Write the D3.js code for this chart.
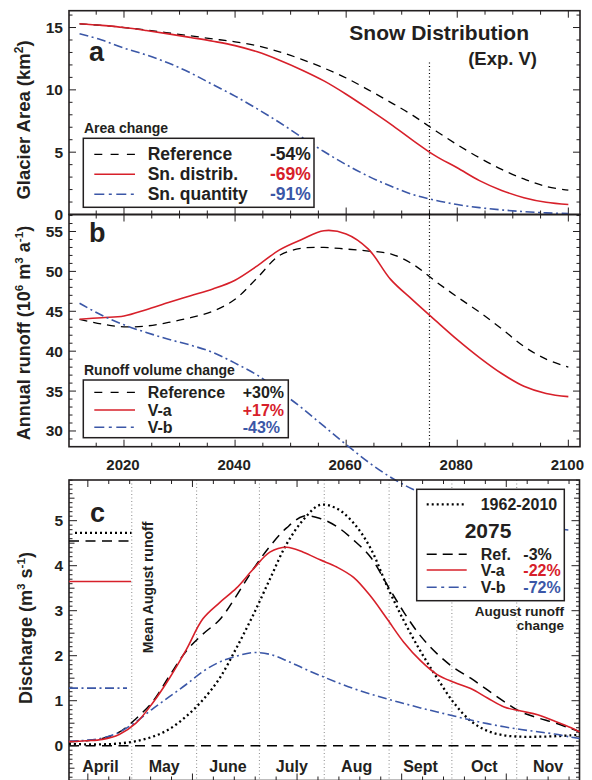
<!DOCTYPE html>
<html><head><meta charset="utf-8">
<script src="https://cdn.jsdelivr.net/npm/d3@7"></script>
<style>
body{margin:0;background:#fff}
text{font-family:Arial,"Liberation Sans",Helvetica,sans-serif;font-weight:bold}
</style>
</head><body>
<svg id="chart" width="592" height="780"></svg>
<script>
// ---------------- DATA ----------------
// Panel a & b: projection years
const years = [2012,2016,2020,2024,2028,2032,2036,2040,2044,2048,2052,2056,2060,2064,2068,2072,2076,2080,2084,2088,2092,2096,2100];
// Panel a: glacier area (km2)
const areaReference  = [15.3,15.17,15.0,14.8,14.57,14.33,14.09,13.85,13.53,13.05,12.45,11.75,10.95,10.0,9.0,7.95,6.75,5.6,4.55,3.62,2.85,2.25,1.95];
const areaSnDistrib  = [15.3,15.17,15.0,14.76,14.49,14.2,13.9,13.55,13.05,12.38,11.6,10.72,9.65,8.47,7.25,5.95,4.72,3.75,2.72,1.93,1.35,0.98,0.8];
const areaSnQuantity = [14.5,14.0,13.35,12.8,12.15,11.35,10.42,9.5,8.47,7.38,6.2,5.05,4.0,3.07,2.28,1.6,1.15,0.8,0.55,0.37,0.23,0.13,0.08];
// Panel b: annual runoff (10^6 m3 a-1)
const runoffReference = [44.0,43.4,43.05,43.15,43.6,44.2,45.0,46.5,49.2,52.0,52.9,53.0,52.8,52.55,52.2,50.9,48.8,46.8,44.9,42.8,40.6,39.0,38.0];
const runoffVa        = [44.0,44.2,44.4,45.2,46.1,46.95,47.8,48.9,50.7,52.7,54.0,55.1,54.7,52.8,49.0,46.4,43.9,41.45,39.2,37.2,35.6,34.7,34.3];
const runoffVb        = [46.0,44.5,43.3,42.35,41.5,40.75,39.85,38.5,37.0,35.0,32.9,30.6,28.3,26.1,24.2,22.7,21.55,20.6,19.7,18.95,18.35,17.9,17.6];
// Panel c: day of year
const dayOfYear = [91,99,107,115,123,131,139,147,155,163,171,179,187,195,203,211,219,227,235,243,251,259,267,275,283,291,299,307,315,323,331,335];
const q1962_2010 = [0.04,0.03,0.03,0.05,0.1,0.2,0.37,0.65,1.02,1.5,2.17,2.9,3.7,4.48,5.02,5.35,5.27,4.95,4.4,3.55,2.78,2.1,1.5,0.95,0.55,0.33,0.23,0.2,0.2,0.21,0.23,0.24];
const q2075Ref   = [0.09,0.11,0.16,0.3,0.6,0.98,1.55,2.1,2.48,2.8,3.33,3.92,4.43,4.84,5.1,5.05,4.87,4.57,4.2,3.58,2.97,2.44,2.04,1.73,1.5,1.24,0.98,0.75,0.62,0.51,0.38,0.31];
const q2075Va    = [0.09,0.11,0.14,0.25,0.5,0.95,1.5,2.13,2.82,3.18,3.5,3.92,4.3,4.41,4.3,4.13,3.97,3.74,3.33,2.82,2.3,1.89,1.58,1.41,1.27,1.06,0.86,0.77,0.69,0.55,0.4,0.31];
const q2075Vb    = [0.1,0.12,0.17,0.3,0.53,0.82,1.09,1.36,1.65,1.86,1.99,2.07,2.03,1.89,1.72,1.56,1.41,1.27,1.15,1.04,0.94,0.84,0.75,0.66,0.57,0.49,0.42,0.36,0.31,0.26,0.19,0.16];
// mean August runoff: 1962-2010, Ref, V-a, V-b
const augustMean = [4.73,4.55,3.65,1.28];
// labels
const areaLegend = ["Reference","Sn. distrib.","Sn. quantity"];
const areaChange = ["-54%","-69%","-91%"];
const runoffLegend = ["Reference","V-a","V-b"];
const runoffChange = ["+30%","+17%","-43%"];
const augLegend = ["Ref.","V-a","V-b"];
const augChange = ["-3%","-22%","-72%"];
const yearTicks = [2020,2040,2060,2080,2100];
const monthNames = ["April","May","June","July","Aug","Sept","Oct","Nov"];
const monthStarts = [91,121,152,182,213,244,274,305,335];

// ---------------- SETUP ----------------
const svg = d3.select("#chart");
const ink = "#231f20", red = "#d7202a", blue = "#3b57a7";
const L = 69, R = 580;
const xYear = d3.scaleLinear().domain([2010.1, 2102.1]).range([L, R]);
const yA = d3.scaleLinear().domain([0, 16.35]).range([214.5, 10.7]);
const yB = d3.scaleLinear().domain([28.03, 57.13]).range([446.7, 214.5]);
const xDay = d3.scaleLinear().domain([91, 335]).range([L, 579.5]);
const yC = d3.scaleLinear().domain([-0.773, 5.904]).range([780.5, 480]);

const stRef  = {c:"#000", w:1.3, dash:"8,6"};
const stRed  = {c:red, w:1.6};
const stBlue = {c:blue, w:1.6, dash:"9,3.5,2,3.5"};
const stRefC = {c:"#000", w:1.5, dash:"10,6.5"};
const stDot  = {c:"#000", w:2.3, dash:"2,3"};

function text(x, y, s, size, opt = {}) {
  return svg.append("text").attr("x", x).attr("y", y).attr("font-size", size)
    .attr("fill", opt.fill || ink).attr("text-anchor", opt.anchor || "start").text(s);
}
function curve(xs, vals, sx, sy, st) {
  const gen = d3.line().curve(d3.curveCatmullRom.alpha(0.5)).x((d, i) => sx(xs[i])).y(d => sy(d));
  svg.append("path").attr("d", gen(vals)).attr("fill", "none").attr("stroke", st.c)
    .attr("stroke-width", st.w).attr("stroke-dasharray", st.dash || null);
}
function seg(x1, y1, x2, y2, st) {
  svg.append("line").attr("x1", x1).attr("y1", y1).attr("x2", x2).attr("y2", y2)
    .attr("stroke", st.c).attr("stroke-width", st.w).attr("stroke-dasharray", st.dash || null);
}
function frame(x0, y0, x1, y1) {
  svg.append("rect").attr("x", x0).attr("y", y0).attr("width", x1 - x0).attr("height", y1 - y0)
    .attr("fill", "none").attr("stroke", ink).attr("stroke-width", 1.6);
}
function yTicks(sc, vals, lenFn, x0, x1) {
  vals.forEach(v => {
    const y = sc(v), len = lenFn(v);
    seg(x0, y, x0 + len, y, {c: ink, w: 1});
    seg(x1, y, x1 - len, y, {c: ink, w: 1});
  });
}
function xTicks(sc, vals, lenFn, y0, y1) {
  vals.forEach(v => {
    const x = sc(v), len = lenFn(v);
    seg(x, y0, x, y0 + len, {c: ink, w: 1});
    seg(x, y1, x, y1 - len, {c: ink, w: 1});
  });
}
function yLabel(x, y, parts, size) {
  const t = svg.append("text").attr("transform", `translate(${x},${y}) rotate(-90)`)
    .attr("font-size", size).attr("fill", ink).attr("text-anchor", "middle");
  parts.forEach(p => {
    if (p.sup) {
      t.append("tspan").attr("dy", -7).attr("font-size", size * 0.65).text(p.t);
    } else {
      t.append("tspan").attr("dy", p.after ? 7 : 0).text(p.t);
    }
  });
}

// ---------------- PANEL A ----------------
const yrTickVals = d3.range(2015, 2101, 5);
frame(L, yA.range()[1], R, yA.range()[0]);
yTicks(yA, d3.range(0, 17, 1), v => v % 5 === 0 ? 7 : 3.5, L, R);
xTicks(xYear, yrTickVals, v => v % 20 === 0 ? 7 : 4, yA.range()[1], yA.range()[0]);
[0, 5, 10, 15].forEach(v => text(63, yA(v) + 5.5, v, 15.5, {anchor: "end"}));

seg(xYear(2075), yA(12.2), xYear(2075), yA(0), {c: "#000", w: 1.2, dash: "1,2.5"});
curve(years, areaReference, xYear, yA, stRef);
curve(years, areaSnDistrib, xYear, yA, stRed);
curve(years, areaSnQuantity, xYear, yA, stBlue);

text(89, 61, "a", 27);
text(529, 39.5, "Snow Distribution", 21, {anchor: "end"});
text(537, 65, "(Exp. V)", 18.5, {anchor: "end"});
yLabel(30, 120, [{t: "Glacier Area (km"}, {t: "2", sup: true}, {t: ")", after: true}], 18.5);

// legend a
text(84, 133, "Area change", 14);
svg.append("rect").attr("x", 83.3).attr("y", 138.3).attr("width", 230.7).attr("height", 69)
  .attr("fill", "#fff").attr("stroke", ink).attr("stroke-width", 1.5);
const legA = [stRef, stRed, stBlue], legAY = [154.3, 174.3, 194.3], valCol = [ink, red, blue];
legA.forEach((st, i) => {
  seg(94.3, legAY[i], 135, legAY[i], {c: st.c, w: st.w, dash: i === 0 ? "8,8.3" : (i === 2 ? "10,4.5,3,4.5" : null)});
  text(147.7, legAY[i] + 5.8, areaLegend[i], 17.5);
  text(270, legAY[i] + 5.8, areaChange[i], 17.5, {fill: valCol[i]});
});

// ---------------- PANEL B ----------------
frame(L, yB.range()[1], R, yB.range()[0]);
yTicks(yB, d3.range(29, 58, 1), v => v % 5 === 0 ? 7 : 3.5, L, R);
xTicks(xYear, yrTickVals, v => v % 20 === 0 ? 7 : 4, yB.range()[1], yB.range()[0]);
[30, 35, 40, 45, 50, 55].forEach(v => text(63, yB(v) + 5.5, v, 15.5, {anchor: "end"}));
yearTicks.forEach(v => text(xYear(v) - 1, 470, v, 15, {anchor: "middle"}));

seg(xYear(2075), yB.range()[1], xYear(2075), yB.range()[0], {c: "#000", w: 1.2, dash: "1,2.5"});
curve(years, runoffReference, xYear, yB, stRef);
curve(years, runoffVa, xYear, yB, stRed);

text(89, 242.3, "b", 27);
yLabel(30, 333, [{t: "Annual runoff (10"}, {t: "6", sup: true}, {t: " m", after: true}, {t: "3", sup: true}, {t: " a", after: true}, {t: "-1", sup: true}, {t: ")", after: true}], 18);

// ---------------- PANEL C ----------------
const cTop = yC.range()[1], cBot = yC.range()[0];
monthStarts.slice(1, -1).forEach(d => seg(xDay(d), cTop, xDay(d), cBot, {c: "#8a8a8a", w: 1, dash: "1,2.5"}));
seg(L, yC(0), 579.5, yC(0), {c: "#000", w: 1.4, dash: "10,6.5"});

// blue V-b line from panel b overflowing into panel c area
curve(years, runoffVb, xYear, yB, stBlue);

frame(L, cTop, 579.5, cBot);
yTicks(yC, d3.range(-7, 60).map(v => v / 10), v => Math.abs(v - Math.round(v)) < 1e-6 ? 8 : (Math.abs(v * 2 - Math.round(v * 2)) < 1e-6 ? 5.5 : 3.5), L, 579.5);
xTicks(xDay, d3.range(100, 335, 10), v => v % 50 === 0 ? 7 : 4, cTop, cBot);
[0, 1, 2, 3, 4, 5].forEach(v => text(63, yC(v) + 5.5, v, 15.5, {anchor: "end"}));

// mean August runoff bars
seg(75, yC(augustMean[0]), 131.5, yC(augustMean[0]), {c: "#000", w: 2.3, dash: "2,3"});
seg(L, yC(augustMean[1]), 131.5, yC(augustMean[1]), {c: "#000", w: 1.5, dash: "10,6.5"});
seg(L, yC(augustMean[2]), 131, yC(augustMean[2]), {c: red, w: 1.6});
seg(L, yC(augustMean[3]), 127, yC(augustMean[3]), {c: blue, w: 1.6, dash: "9,3.5,2,3.5"});

curve(dayOfYear, q1962_2010, xDay, yC, stDot);
curve(dayOfYear, q2075Ref, xDay, yC, stRefC);
curve(dayOfYear, q2075Vb, xDay, yC, stBlue);
curve(dayOfYear, q2075Va, xDay, yC, stRed);

monthNames.forEach((m, i) => text(xDay((monthStarts[i] + monthStarts[i + 1]) / 2), 772, m, 16, {anchor: "middle"}));
text(90, 522.3, "c", 27);
svg.append("text").attr("transform", "translate(153,587.5) rotate(-90)").attr("font-size", 14)
  .attr("fill", ink).attr("text-anchor", "middle").text("Mean August runoff");
yLabel(32, 628, [{t: "Discharge (m"}, {t: "3", sup: true}, {t: " s", after: true}, {t: "-1", sup: true}, {t: ")", after: true}], 18);

// legend c
svg.append("rect").attr("x", 416.7).attr("y", 489.3).attr("width", 147.6).attr("height", 111.4)
  .attr("fill", "#fff").attr("stroke", ink).attr("stroke-width", 1.5);
seg(426.7, 504.3, 466.7, 504.3, stDot);
text(480.7, 510, "1962-2010", 16);
text(488, 538.3, "2075", 21, {anchor: "middle"});
const legC = [stRefC, stRed, stBlue], legCY = [554.3, 570, 587.3];
legC.forEach((st, i) => {
  seg(426.7, legCY[i], 466.7, legCY[i], {c: st.c, w: st.w, dash: i === 0 ? "10,6" : (i === 2 ? "10,4.5,3,4.5" : null)});
  text(480.7, legCY[i] + 5.5, augLegend[i], 16);
  text(523.3, legCY[i] + 5.5, augChange[i], 16, {fill: valCol[i]});
});
text(564, 615.5, "August runoff", 13.5, {anchor: "end"});
text(564, 629.5, "change", 13.5, {anchor: "end"});

// legend b (drawn after overflow line so its white box covers it)
text(84, 375, "Runoff volume change", 14);
svg.append("rect").attr("x", 83.3).attr("y", 380).attr("width", 205).attr("height", 57.7)
  .attr("fill", "#fff").attr("stroke", ink).attr("stroke-width", 1.5);
const legBY = [392.3, 410, 427.3];
legA.forEach((st, i) => {
  seg(94.3, legBY[i], 135, legBY[i], {c: st.c, w: st.w, dash: i === 0 ? "8,8.3" : (i === 2 ? "10,4.5,3,4.5" : null)});
  text(147.7, legBY[i] + 5.5, runoffLegend[i], 16);
  text(242.7, legBY[i] + 5.5, runoffChange[i], 16, {fill: valCol[i]});
});
</script>
</body></html>
